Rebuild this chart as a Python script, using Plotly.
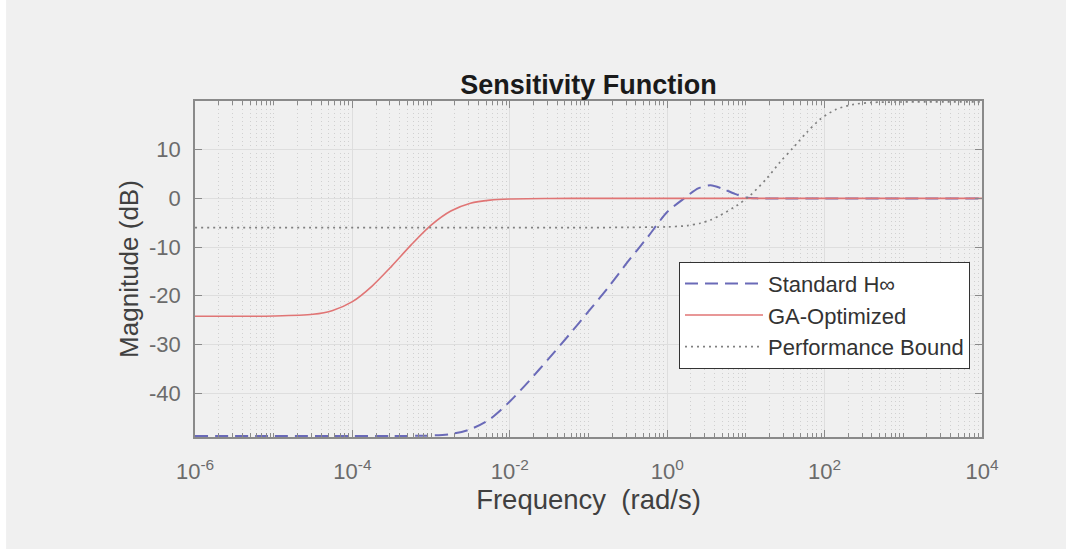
import plotly.graph_objects as go

# ---- data (frequency in rad/s, magnitude in dB) ----
std_freq = [1e-6, 1e-5, 1e-4, 3.16e-4, 1e-3, 1.78e-3, 3.16e-3, 5.62e-3, 1e-2,
            1.78e-2, 3.16e-2, 5.62e-2, 1e-1, 1.78e-1, 3.16e-1, 5.62e-1, 1.0,
            1.58, 2.51, 3.55, 5.01, 7.08, 10.0, 14.1, 31.6, 1e2, 1e3, 1e4]
std_mag = [-48.8, -48.8, -48.8, -48.8, -48.7, -48.4, -47.4, -45.3, -41.7,
           -37.4, -32.8, -28.1, -23.2, -18.3, -13.0, -8.0, -2.8,
           -0.2, 2.1, 2.7, 2.0, 1.0, 0.2, 0.0, 0.0, 0.0, 0.0, 0.0]

ga_freq = [1e-6, 1e-5, 3.16e-5, 5.62e-5, 1e-4, 1.78e-4, 3.16e-4, 5.62e-4, 1e-3,
           1.78e-3, 3.16e-3, 5.62e-3, 1e-2, 3.16e-2, 1e-1, 1.0, 1e2, 1e4]
ga_mag = [-24.2, -24.15, -23.8, -23.0, -21.2, -18.0, -13.9, -9.5, -5.5,
          -2.6, -1.0, -0.35, -0.12, -0.02, 0.0, 0.0, 0.0, 0.0]

bound_freq = [1e-6, 1e-2, 1e-1, 0.316, 1.0, 1.78, 2.63, 3.55, 4.68, 7.59, 11.2,
              18.2, 27.0, 39.8, 58.9, 87.1, 141, 234, 398, 1e3, 1e4]
bound_mag = [-6.0, -6.0, -6.0, -5.95, -5.85, -5.6, -5.1, -4.45, -3.5, -1.5, 0.55,
             4.0, 7.4, 10.4, 13.5, 16.2, 18.3, 19.3, 19.7, 19.8, 19.8]

series_names = ["Standard H\u221e", "GA-Optimized", "Performance Bound"]

x_tick_vals = [1e-6, 1e-4, 1e-2, 1e0, 1e2, 1e4]
x_tick_text = ["10<sup>-6</sup>", "10<sup>-4</sup>", "10<sup>-2</sup>",
               "10<sup>0</sup>", "10<sup>2</sup>", "10<sup>4</sup>"]
y_tick_vals = [-40, -30, -20, -10, 0, 10]
y_tick_text = ["-40", "-30", "-20", "-10", "0", "10"]

minor_vals = []
for d in range(-6, 4):
    for m in range(1, 10):
        if m == 1 and d % 2 == 0:
            continue
        minor_vals.append(m * 10 ** d)

FONT = "Liberation Sans, Arial, sans-serif"
AXC = "#8a8a8a"

fig = go.Figure()
fig.add_trace(go.Scatter(x=std_freq, y=std_mag, mode="lines", name=series_names[0],
                         line=dict(color="#6a6ab8", width=2, dash="13px,7px",
                                   shape="spline", smoothing=0.8)))
fig.add_trace(go.Scatter(x=ga_freq, y=ga_mag, mode="lines", name=series_names[1],
                         line=dict(color="#e07575", width=1.6,
                                   shape="spline", smoothing=0.8)))
fig.add_trace(go.Scatter(x=bound_freq, y=bound_mag, mode="lines", name=series_names[2],
                         line=dict(color="#808080", width=1.7, dash="2px,4px",
                                   shape="spline", smoothing=0.8)))

# grey figure panel (MATLAB figure background)
fig.add_shape(type="rect", xref="paper", yref="paper", layer="below",
              x0=-0.240, x1=1.11, y0=-0.333, y1=1.310,
              fillcolor="#f0f0f0", line=dict(width=0))

fig.update_layout(
    width=1066, height=553,
    margin=dict(l=195, r=84, t=101, b=116),
    paper_bgcolor="white",
    plot_bgcolor="white",
    font=dict(family=FONT, color="#6b6b6b", size=22),
    title=dict(text="<b>Sensitivity Function</b>", x=0.5, xref="paper",
               y=1 - 85 / 553, yref="container", xanchor="center", yanchor="middle",
               font=dict(size=27, color="#1a1a1a", family=FONT)),
    showlegend=True,
    legend=dict(x=0.615, y=0.522, xanchor="left", yanchor="top",
                bgcolor="white", bordercolor="#333333", borderwidth=1,
                font=dict(size=22, color="#333333", family=FONT),
                itemwidth=78, tracegroupgap=0),
    xaxis=dict(type="log", range=[-6, 4], tickmode="array",
               tickvals=x_tick_vals, ticktext=x_tick_text,
               ticks="inside", ticklen=7, tickcolor=AXC,
               showline=True, linecolor=AXC, linewidth=1.5, mirror="ticks",
               showgrid=True, gridcolor="#dedede", gridwidth=1,
               ticklabelstandoff=14,
               tickfont=dict(size=22, color="#6b6b6b"),
               zeroline=False,
               minor=dict(tickmode="array", tickvals=minor_vals, ticks="inside",
                          ticklen=4, tickcolor=AXC, showgrid=True,
                          gridcolor="#d0d0d0", griddash="1px,3px", gridwidth=1),
               title=dict(text="Frequency  (rad/s)", standoff=5,
                          font=dict(size=27.5, color="#404040"))),
    yaxis=dict(range=[-49, 20], tickmode="array", tickvals=y_tick_vals,
               ticktext=y_tick_text,
               ticks="inside", ticklen=7, tickcolor=AXC,
               showline=True, linecolor=AXC, linewidth=1.5, mirror="ticks",
               showgrid=True, gridcolor="#dedede", gridwidth=1,
               zeroline=False, ticklabelstandoff=8,
               tickfont=dict(size=22, color="#6b6b6b"),
               title=dict(text="Magnitude (dB)", standoff=3,
                          font=dict(size=26, color="#404040"))),
)

fig.write_html("out.html")
